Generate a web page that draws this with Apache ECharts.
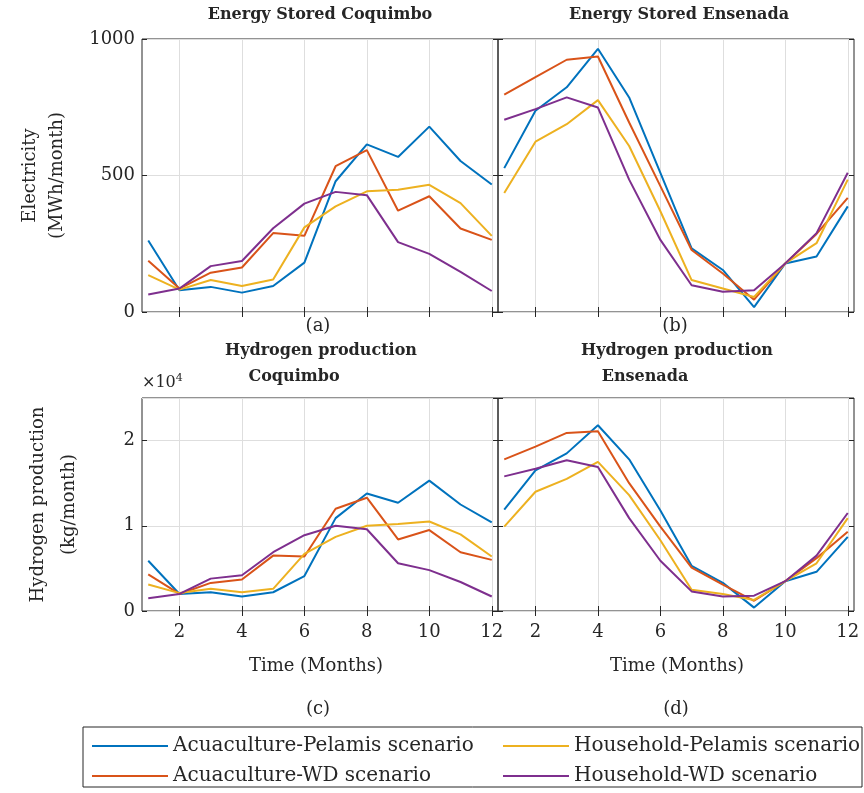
<!DOCTYPE html>
<html>
<head>
<meta charset="utf-8">
<script src="https://cdn.jsdelivr.net/npm/echarts@6/dist/echarts.min.js"></script>
<style>html,body{margin:0;background:#fff}#main{width:864px;height:793px}</style>
</head>
<body>
<div id="main"></div>
<script>
// months on the x axis
var months = [1,2,3,4,5,6,7,8,9,10,11,12];
var monthTicks = [2,4,6,8,10,12];
var names = ['Acuaculture-Pelamis scenario','Acuaculture-WD scenario','Household-Pelamis scenario','Household-WD scenario'];
var colors = ['#0072BD','#D95319','#EDB120','#7E2F8E'];

// (a) energy stored Coquimbo, MWh/month
var coqEnergyAP  = [262, 80, 92, 71, 95, 181, 479, 614, 568, 679, 553, 467];
var coqEnergyAWD = [188, 86, 144, 163, 289, 279, 534, 593, 371, 424, 306, 264];
var coqEnergyHP  = [135, 82, 117, 95, 119, 310, 387, 442, 448, 466, 399, 279];
var coqEnergyHWD = [64, 86, 168, 187, 307, 397, 440, 428, 256, 213, 147, 77];
// (b) energy stored Ensenada
var ensEnergyAP  = [527, 737, 823, 964, 786, 510, 233, 154, 18, 178, 203, 387];
var ensEnergyAWD = [796, 860, 924, 936, 694, 461, 227, 141, 45, 178, 286, 418];
var ensEnergyHP  = [436, 624, 688, 776, 608, 369, 117, 86, 55, 178, 252, 485];
var ensEnergyHWD = [704, 743, 786, 749, 485, 264, 98, 74, 80, 178, 289, 510];
// (c) hydrogen Coquimbo, kg/month
var coqH2AP  = [5900, 2000, 2200, 1700, 2200, 4100, 10900, 13800, 12700, 15300, 12500, 10400];
var coqH2AWD = [4300, 2000, 3300, 3700, 6500, 6400, 12000, 13300, 8400, 9500, 6900, 6000];
var coqH2HP  = [3100, 2100, 2600, 2200, 2600, 6700, 8700, 10000, 10200, 10500, 9000, 6400];
var coqH2HWD = [1500, 2000, 3800, 4200, 6900, 8900, 10000, 9600, 5600, 4800, 3400, 1700];
// (d) hydrogen Ensenada
var ensH2AP  = [11900, 16500, 18500, 21800, 17800, 11800, 5300, 3300, 400, 3500, 4600, 8700];
var ensH2AWD = [17800, 19300, 20900, 21100, 15000, 9900, 5100, 3100, 1200, 3500, 6200, 9300];
var ensH2HP  = [9900, 14000, 15500, 17500, 13600, 8300, 2500, 2000, 1300, 3500, 5600, 10900];
var ensH2HWD = [15800, 16700, 17700, 16900, 10900, 5900, 2300, 1700, 1800, 3500, 6500, 11500];

var font = 'DejaVu Serif';
var ink = '#262626';

var panels = [
	[coqEnergyAP, coqEnergyAWD, coqEnergyHP, coqEnergyHWD],
	[ensEnergyAP, ensEnergyAWD, ensEnergyHP, ensEnergyHWD],
	[coqH2AP, coqH2AWD, coqH2HP, coqH2HWD],
	[ensH2AP, ensH2AWD, ensH2HP, ensH2HWD]
];

var grids = [
	{left:142, top:39, width:356, height:273},
	{left:498, top:39, width:356, height:273},
	{left:142, top:398, width:356, height:213},
	{left:498, top:398, width:356, height:213}
];
for(var g=0;g<grids.length;g++){
	grids[g].show = true;
	grids[g].borderColor = ink;
	grids[g].borderWidth = 1;
}

var xAxes = [], yAxes = [], series = [];
for(var g=0;g<4;g++){
	var bottomRow = g>=2;
	// bottom / top x axes
	for(var k=0;k<2;k++){
		xAxes.push({
			type:'value', gridIndex:g, min:0.8, max:12.2,
			position: k==0 ? 'bottom' : 'top',
			axisLine:{show:false},
			axisTick:{show:true, inside:true, length:5, lineStyle:{color:ink}, customValues:monthTicks},
			axisLabel:{show: k==0 && bottomRow, customValues:monthTicks,
				fontFamily:font, fontSize:18, color:ink, margin:12},
			splitLine:{show: k==0, lineStyle:{color:'#dedede'}}
		});
	}
	for(var k=0;k<2;k++){
		var y = {
			type:'value', gridIndex:g, min:0,
			max: bottomRow ? 25000 : 1000,
			interval: bottomRow ? 10000 : 500,
			position: k==0 ? 'left' : 'right',
			axisLine:{show:false},
			axisTick:{show:true, inside:true, length:5, lineStyle:{color:ink}},
			axisLabel:{show: k==0 && (g==0 || g==2), showMaxLabel: !bottomRow,
				fontFamily:font, fontSize:18, color:ink, margin:7,
				formatter: bottomRow ? function(v){return String(v/10000);} : function(v){return String(v);}},
			splitLine:{show: k==0, lineStyle:{color:'#dedede'}}
		};
		if(k==0 && g==0){
			y.name = 'Electricity\n(MWh/month)';
		}
		if(k==0 && g==2){
			y.name = 'Hydrogen production\n(kg/month)';
		}
		if(y.name){
			y.nameLocation = 'middle';
			y.nameRotate = 90;
			y.nameGap = g==0 ? 71 : 57;
			y.nameTextStyle = {fontFamily:font, fontSize:18, color:ink, lineHeight:g==0 ? 27 : 31};
		}
		yAxes.push(y);
	}
	for(var s=0;s<4;s++){
		series.push({
			name:names[s], type:'line', symbol:'none',
			xAxisIndex:g*2, yAxisIndex:g*2,
			lineStyle:{width:2, color:colors[s]},
			itemStyle:{color:colors[s]},
			data: months.map(function(m,i){return [m, panels[g][s][i]];}),
			z: 5
		});
	}
}

function label(text, x, y, size, bold){
	return {text:text, left:x, top:y, textAlign:'center', padding:0,
		textStyle:{fontFamily:font, fontSize:size, fontWeight: bold ? 'bold' : 'normal', color:ink}};
}

var option = {
	backgroundColor:'#fff',
	animation:false,
	color:colors,
	title:[
		label('Energy Stored Coquimbo', 320, 7, 16, true),
		label('Energy Stored Ensenada', 679, 7, 16, true),
		label('(a)', 318, 317, 18, false),
		label('(b)', 675, 317, 18, false),
		label('Hydrogen production', 321, 343, 16, true),
		label('Coquimbo', 294, 369, 16, true),
		label('Hydrogen production', 677, 343, 16, true),
		label('Ensenada', 645, 369, 16, true),
		label('Time (Months)', 316, 657, 18, false),
		label('Time (Months)', 677, 657, 18, false),
		label('(c)', 318, 700, 18, false),
		label('(d)', 676, 700, 18, false),
		{text:'{a|×10}{b|4}', left:142, top:373, padding:0,
			textStyle:{rich:{a:{fontFamily:font, fontSize:16, fontWeight:'normal', color:ink},
				b:{fontFamily:font, fontSize:11, fontWeight:'normal', color:ink, verticalAlign:'top', padding:[0,0,8,0]}}}}
	],
	legend:[
		{data:[names[0], names[1]], orient:'vertical', left:92, top:736, itemGap:10,
			icon:'rect', itemWidth:76, itemHeight:2, padding:0,
			textStyle:{fontFamily:font, fontSize:20, color:ink}},
		{data:[names[2], names[3]], orient:'vertical', left:503, top:736, itemGap:10,
			icon:'rect', itemWidth:66, itemHeight:2, padding:0,
			textStyle:{fontFamily:font, fontSize:20, color:ink}}
	],
	graphic:[
		{type:'rect', shape:{x:83, y:727, width:779, height:60},
			style:{fill:null, stroke:ink, lineWidth:1}, silent:true}
	],
	grid:grids,
	xAxis:xAxes,
	yAxis:yAxes,
	series:series
};

var mychart = echarts.init(document.getElementById('main'));
mychart.setOption(option);
</script>
</body>
</html>
